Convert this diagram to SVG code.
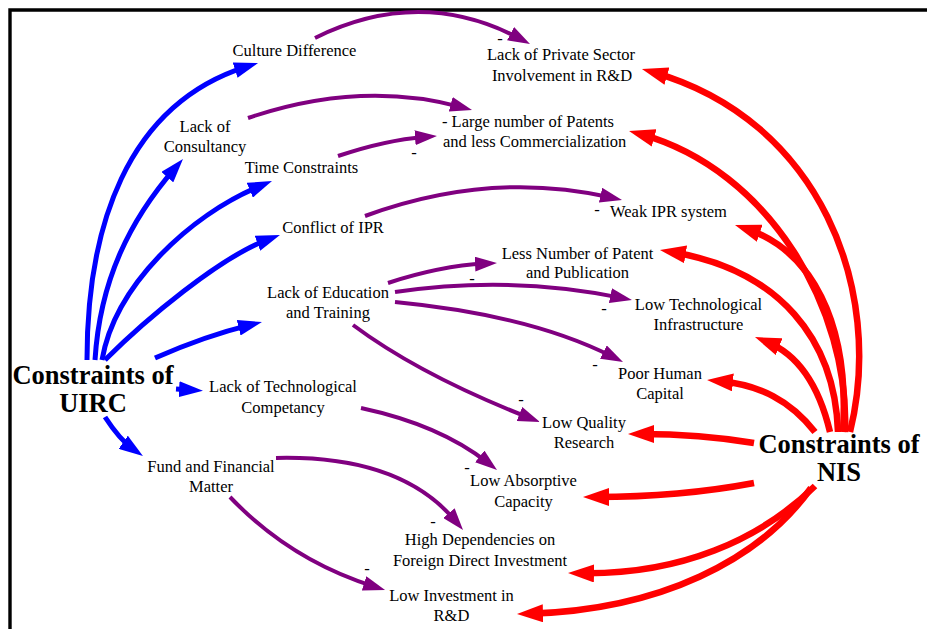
<svg xmlns="http://www.w3.org/2000/svg" width="927" height="629" viewBox="0 0 927 629">
  <style>
    text { font-family: "Liberation Serif", "Times New Roman", serif; fill: #000; }
    .n { font-size: 16.5px; text-anchor: middle; }
    .ns { font-size: 16.5px; text-anchor: start; }
    .hub { font-size: 26.5px; font-weight: bold; text-anchor: middle; }
    .pol { font-size: 16.5px; text-anchor: middle; }
    .b { fill: none; stroke: #0000FF; stroke-width: 5; marker-end: url(#ah-b); }
    .r { fill: none; stroke: #FF0000; stroke-width: 6.5; marker-end: url(#ah-r); }
    .p { fill: none; stroke: #800080; stroke-width: 4; marker-end: url(#ah-p); }
  </style>
  <defs>
    <marker id="ah-b" markerUnits="userSpaceOnUse" markerWidth="24" markerHeight="16" refX="12" refY="8" orient="auto">
      <path d="M0,0 L24,8 L0,16 Z" fill="#0000FF"/>
    </marker>
    <marker id="ah-r" markerUnits="userSpaceOnUse" markerWidth="26" markerHeight="18" refX="14" refY="9" orient="auto">
      <path d="M0,0 L26,9 L0,18 Z" fill="#FF0000"/>
    </marker>
    <marker id="ah-p" markerUnits="userSpaceOnUse" markerWidth="22" markerHeight="15" refX="10" refY="7.5" orient="auto">
      <path d="M0,0 L22,7.5 L0,15 Z" fill="#800080"/>
    </marker>
  </defs>

  <rect width="927" height="629" fill="#fff"/>
  <path d="M10,629 V10 H927" fill="none" stroke="#000" stroke-width="3.4"/>

  <g id="connectors">
    <!-- UIRC constraints -->
    <path class="b" d="M87,360 C87,230 125,105 246.6,66.6"/>
    <path class="b" d="M95,360 C100,280 130,220 175.1,168.1"/>
    <path class="b" d="M102,360 C115,285 190,215 260.9,185.6"/>
    <path class="b" d="M105,360 C145,320 220,257 268.7,239.1"/>
    <path class="b" d="M155,358 Q205,336 250.3,324.9"/>
    <path class="b" d="M176,389 L191,390"/>
    <path class="b" d="M105,417 Q120,440 133.1,449.1"/>

    <!-- NIS constraints -->
    <path class="r" d="M850,432 C885,290 820,120 653.5,72.3"/>
    <path class="r" d="M845,432 C850,310 770,170 640.6,134.2"/>
    <path class="r" d="M843,432 C850,320 810,250 746.4,228.8"/>
    <path class="r" d="M838,432 C835,340 780,270 671.8,252"/>
    <path class="r" d="M830,432 C820,390 800,355 766.1,341.5"/>
    <path class="r" d="M815,432 C790,400 760,385 719,381.1"/>
    <path class="r" d="M754,443 Q700,434 640,434"/>
    <path class="r" d="M754,483 Q680,497 595,497"/>
    <path class="r" d="M815,486 C760,540 680,575 580,573.2"/>
    <path class="r" d="M811,488 C760,560 660,610 529,613.7"/>

    <!-- causal links -->
    <path class="p" d="M315,38 Q420,-14 519.4,38.4"/>
    <path class="p" d="M248,118 Q360,80 460.4,106.9"/>
    <path class="p" d="M338,156 Q385,140 425,136.9"/>
    <path class="p" d="M365,216 Q490,170 610.3,197.3"/>
    <path class="p" d="M388,283 Q440,266 485,263.6"/>
    <path class="p" d="M395,292 Q510,275 620.2,297.6"/>
    <path class="p" d="M395,302 Q530,315 612.3,356.6"/>
    <path class="p" d="M353,325 Q420,375 528.8,417.6"/>
    <path class="p" d="M361,408 Q440,425 487.6,462.6"/>
    <path class="p" d="M276,458 Q400,455 455.3,520.8"/>
    <path class="p" d="M230,497 Q290,560 373.6,586.4"/>

    <g id="polarity">
      <text class="pol" x="500" y="44">-</text>
      <text class="pol" x="414" y="158">-</text>
      <text class="pol" x="597" y="215">-</text>
      <text class="pol" x="472" y="284">-</text>
      <text class="pol" x="604" y="314">-</text>
      <text class="pol" x="595" y="370">-</text>
      <text class="pol" x="521" y="405">-</text>
      <text class="pol" x="467" y="473">-</text>
      <text class="pol" x="433" y="527">-</text>
      <text class="pol" x="367" y="574">-</text>
    </g>
  </g>

  <g id="uirc"><text class="hub" x="93" y="384">Constraints of</text><text class="hub" x="93" y="412">UIRC</text></g>
  <g id="nis"><text class="hub" x="839" y="453">Constraints of</text><text class="hub" x="839" y="481">NIS</text></g>

  <g id="culture-difference"><text class="n" x="294.5" y="56">Culture Difference</text></g>
  <g id="lack-of-consultancy"><text class="n" x="205" y="132">Lack of</text><text class="n" x="205" y="152">Consultancy</text></g>
  <g id="time-constraints"><text class="n" x="301.5" y="173">Time Constraints</text></g>
  <g id="conflict-of-ipr"><text class="n" x="333" y="233">Conflict of IPR</text></g>
  <g id="lack-of-education"><text class="n" x="328" y="298">Lack of Education</text><text class="n" x="328" y="318">and Training</text></g>
  <g id="lack-of-tech-competancy"><text class="n" x="283" y="392">Lack of Technological</text><text class="n" x="283" y="413">Competancy</text></g>
  <g id="fund-and-financial"><text class="n" x="211" y="472">Fund and Financial</text><text class="n" x="211" y="492">Matter</text></g>

  <g id="private-sector"><text class="n" x="561" y="60">Lack of Private Sector</text><text class="n" x="562" y="81">Involvement in R&amp;D</text></g>
  <g id="patents-commercialization"><text class="ns" x="442" y="127">- Large number of Patents</text><text class="ns" x="443" y="147">and less Commercialization</text></g>
  <g id="weak-ipr"><text class="ns" x="610" y="217">Weak IPR system</text></g>
  <g id="less-patent-publication"><text class="n" x="577.5" y="259">Less Number of Patent</text><text class="n" x="577.5" y="278">and Publication</text></g>
  <g id="low-tech-infrastructure"><text class="n" x="698.5" y="310">Low Technological</text><text class="n" x="698.5" y="330">Infrastructure</text></g>
  <g id="poor-human-capital"><text class="n" x="660" y="379">Poor Human</text><text class="n" x="660" y="399">Capital</text></g>
  <g id="low-quality-research"><text class="n" x="584" y="428">Low Quality</text><text class="n" x="584" y="448">Research</text></g>
  <g id="low-absorptive-capacity"><text class="n" x="523.5" y="486">Low Absorptive</text><text class="n" x="523.5" y="507">Capacity</text></g>
  <g id="fdi-dependency"><text class="n" x="480" y="545">High Dependencies on</text><text class="n" x="480" y="566">Foreign Direct Investment</text></g>
  <g id="low-rd-investment"><text class="n" x="451.5" y="601">Low Investment in</text><text class="n" x="451.5" y="621">R&amp;D</text></g>
</svg>
